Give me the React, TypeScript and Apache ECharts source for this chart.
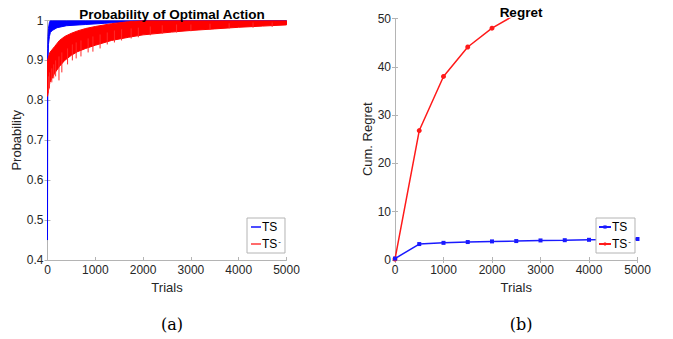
import React, { useEffect, useRef } from "react";
import * as echarts from "echarts";

// Left panel: envelopes of the noisy probability curves
const bandTrials = [0, 50, 150, 250, 360, 500, 630, 800, 1000, 1340, 1700, 2000, 2600, 3000, 3500, 4000, 4500, 5000];
const redLow = [0.81, 0.845, 0.868, 0.885, 0.9, 0.913, 0.922, 0.93, 0.938, 0.95, 0.958, 0.964, 0.971, 0.975, 0.979, 0.983, 0.986, 0.989];
const redHigh = [0.9, 0.92, 0.935, 0.95, 0.96, 0.968, 0.974, 0.98, 0.985, 0.992, 0.997, 1, 1, 1, 1, 1, 1, 1];

// Downward spikes of the TS- curve (trial, lowest value, top of spike)
const spikeTrials = [20, 40, 90, 130, 170, 240, 300, 420, 520, 600, 700, 850, 950, 1100, 1250, 1400, 1550, 1750, 1900, 2150, 2400, 2700, 3000, 3400, 3800, 4300, 4700];
const spikeLow = [0.82, 0.83, 0.845, 0.855, 0.86, 0.85, 0.87, 0.89, 0.9, 0.905, 0.91, 0.92, 0.922, 0.93, 0.94, 0.945, 0.95, 0.955, 0.958, 0.963, 0.967, 0.97, 0.973, 0.977, 0.98, 0.982, 0.984];
const spikeHigh = [0.86, 0.87, 0.88, 0.89, 0.9, 0.91, 0.92, 0.93, 0.94, 0.945, 0.95, 0.955, 0.96, 0.965, 0.97, 0.975, 0.978, 0.98, 0.982, 0.985, 0.988, 0.99, 0.99, 0.992, 0.993, 0.995, 0.995];

const blueTrials = [0, 2, 5, 10, 20, 40, 60, 100, 200, 400, 800, 1200, 1600, 2000, 5000];
const blueLow = [0.45, 0.7, 0.85, 0.9, 0.94, 0.96, 0.97, 0.975, 0.982, 0.987, 0.99, 0.993, 0.996, 1, 1];
const blueHigh = [0.45, 0.85, 0.93, 0.96, 0.98, 0.995, 1, 1, 1, 1, 1, 1, 1, 1, 1];

// Right panel: cumulative regret
const regretTrials = [0, 500, 1000, 1500, 2000, 2500, 3000, 3500, 4000, 4500, 5000];
const regretTS = [0.3, 3.3, 3.55, 3.72, 3.85, 3.92, 4.05, 4.1, 4.18, 4.25, 4.35];
const regretTSminus = [0.2, 26.8, 38.0, 44.1, 48.0, 50.9, 53.5, 55.8, 57.8, 59.6, 61.2];

const axisGray = "#b4b4b4";
const textDark = "#262626";
const sans = "Liberation Sans, Arial, Helvetica, sans-serif";

function bandSeries(name: string, xs: number[], lo: number[], hi: number[], color: string) {
  return {
    type: "custom",
    name,
    xAxisIndex: 0,
    yAxisIndex: 0,
    clip: true,
    data: xs.map((t, i) => [t, lo[i], hi[i]]),
    encode: { x: 0, y: [1, 2] },
    renderItem: (params: any, api: any) => {
      if (params.dataIndex !== 0) return null;
      const pts: number[][] = [];
      for (let i = 0; i < xs.length; i++) pts.push(api.coord([xs[i], lo[i]]));
      for (let i = xs.length - 1; i >= 0; i--) pts.push(api.coord([xs[i], hi[i]]));
      return {
        type: "polygon",
        shape: { points: pts },
        style: { fill: color, stroke: color, lineWidth: 1 },
      };
    },
    silent: true,
  };
}

function spikeSeries(color: string) {
  return {
    type: "custom",
    name: "spikes",
    xAxisIndex: 0,
    yAxisIndex: 0,
    clip: true,
    data: spikeTrials.map((t, i) => [t, spikeLow[i], spikeHigh[i]]),
    encode: { x: 0, y: [1, 2] },
    renderItem: (params: any, api: any) => {
      const a = api.coord([api.value(0), api.value(1)]);
      const b = api.coord([api.value(0), api.value(2)]);
      return {
        type: "line",
        shape: { x1: a[0], y1: a[1], x2: b[0], y2: b[1] },
        style: { stroke: color, lineWidth: 1 },
      };
    },
    silent: true,
  };
}

export default function App() {
  const ref = useRef<HTMLDivElement>(null);
  useEffect(() => {
    if (!ref.current) return;
    const chart = echarts.init(ref.current, null, { renderer: "svg" });
    const xAxisBase = (gridIndex: number) => ({
      type: "value",
      gridIndex,
      min: 0,
      max: 5000,
      interval: 1000,
      axisLine: { show: true, lineStyle: { color: axisGray, width: 1 } },
      axisTick: { show: true, inside: true, length: 3, lineStyle: { color: axisGray } },
      splitLine: { show: false },
    });
    const legendFormatter = (n: string) => (n === "TS-" ? "{a|TS}{s|-}" : "{a|TS}");
    const legendRich = {
      a: { fontSize: 12, fontFamily: sans, color: "#000" },
      s: { fontSize: 8, fontFamily: sans, color: "#000", verticalAlign: "top", padding: [0, 0, 6, 1] },
    };
    const tickLabel = {
      fontFamily: sans,
      fontSize: 12,
      color: textDark,
      margin: 4,
      formatter: (v: number) => String(v),
    };
    const nameStyle = { fontFamily: sans, fontSize: 13, color: textDark };
    const titleStyle = { fontFamily: sans, fontSize: 13.5, fontWeight: "bold", color: "#000" };
    const serifStyle = { fontFamily: "DejaVu Serif, Liberation Serif, serif", fontSize: 16, fontWeight: "normal", color: "#000" };
    const option: any = {
      animation: false,
      backgroundColor: "#fff",
      title: [
        { text: "Probability of Optimal Action", left: 167, top: 2, textAlign: "center", textStyle: titleStyle },
        { text: "Regret", left: 516, top: 0, textAlign: "center", textStyle: titleStyle },
        { text: "(a)", left: 167, top: 311, textAlign: "center", textStyle: serifStyle },
        { text: "(b)", left: 516, top: 311, textAlign: "center", textStyle: serifStyle },
      ],
      grid: [
        { left: 47.5, top: 20.5, width: 239, height: 239.5 },
        { left: 395, top: 18.5, width: 242.5, height: 241.5 },
      ],
      xAxis: [
        { ...xAxisBase(0), position: "bottom", name: "Trials", nameLocation: "middle", nameGap: 21, nameTextStyle: nameStyle, axisLabel: tickLabel },
        { ...xAxisBase(0), position: "top", axisLabel: { show: false } },
        { ...xAxisBase(1), position: "bottom", name: "Trials", nameLocation: "middle", nameGap: 21, nameTextStyle: nameStyle, axisLabel: tickLabel },
        { ...xAxisBase(1), position: "top", axisLabel: { show: false } },
      ],
      yAxis: [
        {
          type: "value",
          gridIndex: 0,
          position: "left",
          min: 0.4,
          max: 1,
          interval: 0.1,
          name: "Probability",
          nameLocation: "middle",
          nameGap: 25,
          nameTextStyle: nameStyle,
          axisLine: { show: true, lineStyle: { color: axisGray } },
          axisTick: { show: true, inside: true, length: 3, lineStyle: { color: axisGray } },
          splitLine: { show: false },
          axisLabel: { ...tickLabel, formatter: (v: number) => String(Math.round(v * 10) / 10) },
        },
        {
          type: "value",
          gridIndex: 0,
          position: "right",
          min: 0.4,
          max: 1,
          interval: 0.1,
          axisLine: { show: true, lineStyle: { color: axisGray } },
          axisTick: { show: true, inside: true, length: 3, lineStyle: { color: axisGray } },
          splitLine: { show: false },
          axisLabel: { show: false },
        },
        {
          type: "value",
          gridIndex: 1,
          position: "left",
          min: 0,
          max: 50,
          interval: 10,
          name: "Cum. Regret",
          nameLocation: "middle",
          nameGap: 21,
          nameTextStyle: nameStyle,
          axisLine: { show: true, lineStyle: { color: axisGray } },
          axisTick: { show: true, inside: true, length: 3, lineStyle: { color: axisGray } },
          splitLine: { show: false },
          axisLabel: tickLabel,
        },
        {
          type: "value",
          gridIndex: 1,
          position: "right",
          min: 0,
          max: 50,
          interval: 10,
          axisLine: { show: true, lineStyle: { color: axisGray } },
          axisTick: { show: true, inside: true, length: 3, lineStyle: { color: axisGray } },
          splitLine: { show: false },
          axisLabel: { show: false },
        },
      ],
      legend: [
        {
          data: ["TS", "TS-"],
          orient: "vertical",
          left: 247,
          top: 218,
          width: 39,
          itemWidth: 10,
          itemHeight: 2,
          itemGap: 4,
          padding: [3, 4, 3, 3],
          backgroundColor: "#fff",
          borderColor: axisGray,
          borderWidth: 1,
          borderRadius: 0,
          formatter: legendFormatter,
          textStyle: { rich: legendRich, padding: [0, 0, 0, -4] },
        },
        {
          data: ["TS ", "TS- "],
          orient: "vertical",
          left: 596,
          top: 218,
          itemWidth: 12,
          itemHeight: 4,
          itemGap: 4,
          padding: [3, 4, 3, 2],
          backgroundColor: "#fff",
          borderColor: axisGray,
          borderWidth: 1,
          borderRadius: 0,
          formatter: (n: string) => legendFormatter(n.trim()),
          textStyle: { rich: legendRich, padding: [0, 0, 0, -4] },
        },
      ],
      series: [
        bandSeries("blueBand", blueTrials, blueLow, blueHigh, "#0000ff"),
        bandSeries("redBand", bandTrials, redLow, redHigh, "#ff0000"),
        spikeSeries("#ff2a2a"),
        {
          type: "line",
          name: "TS",
          xAxisIndex: 0,
          yAxisIndex: 0,
          data: [],
          symbol: "none",
          itemStyle: { color: "#4d4dff" },
          lineStyle: { color: "#4d4dff", width: 1 },
        },
        {
          type: "line",
          name: "TS-",
          xAxisIndex: 0,
          yAxisIndex: 0,
          data: [],
          symbol: "none",
          itemStyle: { color: "#ff6b6b" },
          lineStyle: { color: "#ff6b6b", width: 1 },
        },
        {
          type: "line",
          name: "TS ",
          xAxisIndex: 2,
          yAxisIndex: 2,
          data: regretTrials.map((t, i) => [t, regretTS[i]]),
          symbol: "rect",
          symbolSize: 4,
          clip: true,
          itemStyle: { color: "#1a1aff" },
          lineStyle: { color: "#1a1aff", width: 1.5 },
          z: 3,
        },
        {
          type: "line",
          name: "TS- ",
          xAxisIndex: 2,
          yAxisIndex: 2,
          data: regretTrials.map((t, i) => [t, regretTSminus[i]]),
          symbol: "circle",
          symbolSize: 5,
          clip: true,
          itemStyle: { color: "#ff1a1a" },
          lineStyle: { color: "#ff1a1a", width: 1.5 },
          z: 2,
        },
      ],
    };
    chart.setOption(option);
    return () => chart.dispose();
  }, []);
  return <div ref={ref} style={{ width: 673, height: 339, position: "absolute", left: 0, top: 0 }} />;
}
